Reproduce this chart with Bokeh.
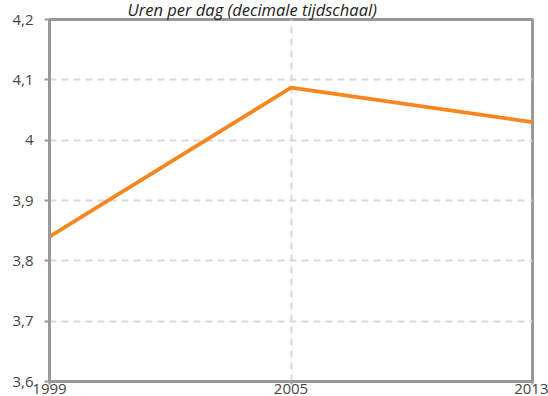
from bokeh.plotting import figure
from bokeh.models import (ColumnDataSource, FixedTicker, CustomJSTickFormatter, Range1d)
from bokeh.embed import file_html
from bokeh.resources import INLINE

# Data
years = ["1999", "2005", "2013"]
hours = [3.84, 4.087, 4.03]
y_ticks = [3.6, 3.7, 3.8, 3.9, 4.0, 4.1, 4.2]
title_text = "Uren per dag (decimale tijdschaal)"

idx = list(range(len(years)))
src = ColumnDataSource(dict(x=idx, y=hours))

AXIS = "#999999"
GRID = "#d9d9d9"
TXT = "#444444"
FONT = "Open Sans"

p = figure(width=548, height=396, output_backend="svg", toolbar_location=None,
           x_range=Range1d(idx[0], idx[-1]), y_range=Range1d(y_ticks[0], y_ticks[-1]),
           min_border_left=49, min_border_right=16, min_border_top=19, min_border_bottom=0)

p.line("x", "y", source=src, line_color="#f7861e", line_width=3.7)

p.outline_line_color = AXIS
p.outline_line_width = 3

# title
p.title.text = title_text
p.title.align = "left"
p.title.offset = 78
p.title.vertical_align = "top"
p.title.text_line_height = 0.5
p.title.text_font = FONT
p.title.text_font_style = "italic"
p.title.text_font_size = "16.5px"
p.title.text_color = "#222222"
p.title.standoff = -6

# y axis
p.yaxis.ticker = FixedTicker(ticks=y_ticks)
p.yaxis.formatter = CustomJSTickFormatter(code="""
    return (Math.round(tick*10)/10).toString().replace('.', ',');
""")
p.yaxis.axis_line_color = AXIS
p.yaxis.axis_line_width = 3
p.yaxis.major_tick_line_color = AXIS
p.yaxis.major_tick_line_width = 2
p.yaxis.major_tick_out = 5
p.yaxis.major_tick_in = 0
p.yaxis.minor_tick_line_color = None
p.yaxis.major_label_standoff = 11
p.yaxis.major_label_text_font = FONT
p.yaxis.major_label_text_font_size = "15px"
p.yaxis.major_label_text_color = TXT

# x axis
p.xaxis.ticker = FixedTicker(ticks=idx)
p.xaxis.major_label_overrides = {i: y for i, y in zip(idx, years)}
p.xaxis.axis_line_color = AXIS
p.xaxis.axis_line_width = 3
p.xaxis.major_tick_line_color = AXIS
p.xaxis.major_tick_line_width = 2
p.xaxis.major_tick_out = 3
p.xaxis.major_tick_in = 0
p.xaxis.minor_tick_line_color = None
p.xaxis.major_label_standoff = -1
p.xaxis.major_label_text_font = FONT
p.xaxis.major_label_text_font_size = "15px"
p.xaxis.major_label_text_color = TXT

# grid
p.ygrid.ticker = FixedTicker(ticks=y_ticks[1:-1])
p.xgrid.ticker = FixedTicker(ticks=[idx[1]])
for g in (p.xgrid, p.ygrid):
    g.grid_line_color = GRID
    g.grid_line_width = 2
    g.grid_line_dash = "7 5"

open("out.html", "w").write(file_html(p, INLINE))
